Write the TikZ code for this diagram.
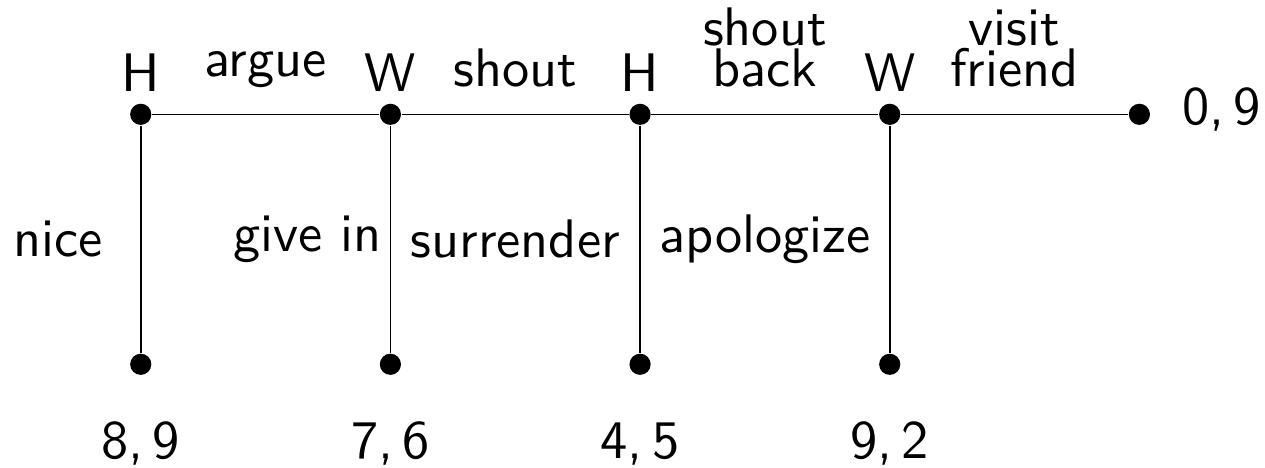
\documentclass[tikz,border=0pt]{standalone}
\usepackage{tikz}
\usetikzlibrary{positioning}

\begin{document}
\begin{tikzpicture}[font=\sffamily, line width=0.3pt, on grid,
        dot/.style = {circle, fill, inner sep=0pt, minimum size=3.9pt},
        move/.style = {above=1.5pt, align=center}]
    \useasboundingbox (-0.911,-2.289) rectangle (7.277,0.740);
    % decision nodes along the top, then the end of the game
    \node [dot] (h1) {};
    \node [dot, right=1.616cm of h1] (w1) {};
    \node [dot, right=1.616cm of w1] (h2) {};
    \node [dot, right=1.616cm of h2] (w2) {};
    \node [dot, right=1.616cm of w2] (fin) {};
    % who moves
    \node [above=4.16pt of h1, anchor=base] (ph1) {H};
    \node [above=4.16pt of w1, anchor=base] (pw1) {W};
    \node [above=4.16pt of h2, anchor=base] (ph2) {H};
    \node [above=4.16pt of w2, anchor=base] (pw2) {W};
    % leaves where the game stops
    \node [dot, below=1.618cm of h1] (l1) {};
    \node [dot, below=1.618cm of w1] (l2) {};
    \node [dot, below=1.618cm of h2] (l3) {};
    \node [dot, below=1.618cm of w2] (l4) {};
    % payoffs
    \node [below=17.26pt of l1, anchor=base] (u1) {8,\,9};
    \node [below=17.26pt of l2, anchor=base] (u2) {7,\,6};
    \node [below=17.26pt of l3, anchor=base] (u3) {4,\,5};
    \node [below=17.26pt of l4, anchor=base] (u4) {9,\,2};
    \node [right=4.4pt of fin, anchor=base west, yshift=-1.84pt] (u5) {0,\,9};

    \draw (h1) -- node [move] (argue) {argue} (w1);
    \draw (w1) -- node [move] (shout) {shout} (h2);
    \draw (h2) -- node [move] (back) {shout\\[-4.4pt]back} (w2);
    \draw (w2) -- node [move] (visit) {visit\\[-4.4pt]friend} (fin);

    \draw (h1) -- node [xshift=-0.537cm] (nice) {nice} (l1);
    \draw (w1) -- node [xshift=-0.537cm] (givein) {give in} (l2);
    \draw (h2) -- node [xshift=-0.808cm] (surr) {surrender} (l3);
    \draw (w2) -- node [xshift=-0.808cm] (apol) {apologize} (l4);
\end{tikzpicture}
\end{document}
